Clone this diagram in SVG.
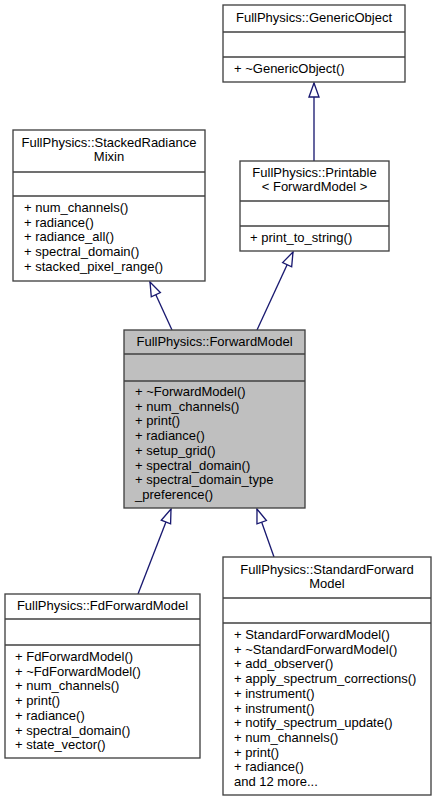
<svg xmlns="http://www.w3.org/2000/svg" width="435" height="801" viewBox="0 0 435 801">
<style>
.box{fill:#ffffff;stroke:#404040;stroke-width:1.33}
.cur{fill:#bfbfbf;stroke:#404040;stroke-width:1.33}
.sep{stroke:#404040;stroke-width:1.33}
text{font-family:"Liberation Sans",Arial,Helvetica,sans-serif;font-size:13px;fill:#000000}
.c{text-anchor:middle}
.edge{stroke:#191970;stroke-width:1.33;fill:none;marker-end:url(#tri)}
</style>
<defs>
<marker id="tri" markerUnits="userSpaceOnUse" markerWidth="20" markerHeight="14" refX="15" refY="7" orient="auto" overflow="visible">
<path d="M1,2 L15,7 L1,12 Z" fill="#ffffff" stroke="#191970" stroke-width="1.33"/>
</marker>
</defs>
<rect width="435" height="801" fill="#ffffff"/>
<g id="connectors">
<line class="edge" x1="314" y1="161" x2="314" y2="83"/>
<line class="edge" x1="172" y1="330" x2="150" y2="282"/>
<line class="edge" x1="257" y1="330" x2="293" y2="252"/>
<line class="edge" x1="138" y1="594" x2="171" y2="509"/>
<line class="edge" x1="274" y1="557" x2="257" y2="509"/>
</g>
<g id="GenericObject">
<rect class="box" x="223" y="5" width="182" height="77"/>
<line class="sep" x1="223" y1="32" x2="405" y2="32"/>
<line class="sep" x1="223" y1="57" x2="405" y2="57"/>
<text class="c" x="314" y="22">FullPhysics::GenericObject</text>
<text x="234" y="73">+ ~GenericObject()</text>
</g>
<g id="Printable">
<rect class="box" x="240" y="161" width="149" height="90"/>
<line class="sep" x1="240" y1="201" x2="389" y2="201"/>
<line class="sep" x1="240" y1="226" x2="389" y2="226"/>
<text class="c" x="314.5" y="177">FullPhysics::Printable</text>
<text class="c" x="314.5" y="191">&lt; ForwardModel &gt;</text>
<text x="250" y="242">+ print_to_string()</text>
</g>
<g id="StackedRadianceMixin">
<rect class="box" x="13" y="130" width="192" height="151"/>
<line class="sep" x1="13" y1="172" x2="205" y2="172"/>
<line class="sep" x1="13" y1="196" x2="205" y2="196"/>
<text class="c" x="109" y="147">FullPhysics::StackedRadiance</text>
<text class="c" x="109" y="161">Mixin</text>
<text x="24" y="212">+ num_channels()</text>
<text x="24" y="226.7">+ radiance()</text>
<text x="24" y="241.4">+ radiance_all()</text>
<text x="24" y="256.1">+ spectral_domain()</text>
<text x="24" y="270.8">+ stacked_pixel_range()</text>
</g>
<g id="ForwardModel">
<rect class="cur" x="124" y="330" width="181" height="178"/>
<line class="sep" x1="124" y1="354" x2="305" y2="354"/>
<line class="sep" x1="124" y1="381" x2="305" y2="381"/>
<text class="c" x="214.5" y="346">FullPhysics::ForwardModel</text>
<text x="135" y="396">+ ~ForwardModel()</text>
<text x="135" y="410.7">+ num_channels()</text>
<text x="135" y="425.4">+ print()</text>
<text x="135" y="440.1">+ radiance()</text>
<text x="135" y="454.8">+ setup_grid()</text>
<text x="135" y="469.5">+ spectral_domain()</text>
<text x="135" y="484.2">+ spectral_domain_type</text>
<text x="135" y="498.9">_preference()</text>
</g>
<g id="FdForwardModel">
<rect class="box" x="5" y="594" width="195" height="164"/>
<line class="sep" x1="5" y1="619" x2="200" y2="619"/>
<line class="sep" x1="5" y1="645" x2="200" y2="645"/>
<text class="c" x="102.5" y="610">FullPhysics::FdForwardModel</text>
<text x="15" y="661">+ FdForwardModel()</text>
<text x="15" y="675.7">+ ~FdForwardModel()</text>
<text x="15" y="690.4">+ num_channels()</text>
<text x="15" y="705.1">+ print()</text>
<text x="15" y="719.8">+ radiance()</text>
<text x="15" y="734.5">+ spectral_domain()</text>
<text x="15" y="749.2">+ state_vector()</text>
</g>
<g id="StandardForwardModel">
<rect class="box" x="223" y="557" width="208" height="238"/>
<line class="sep" x1="223" y1="598" x2="431" y2="598"/>
<line class="sep" x1="223" y1="623" x2="431" y2="623"/>
<text class="c" x="327" y="574">FullPhysics::StandardForward</text>
<text class="c" x="327" y="588">Model</text>
<text x="234" y="639">+ StandardForwardModel()</text>
<text x="234" y="653.7">+ ~StandardForwardModel()</text>
<text x="234" y="668.4">+ add_observer()</text>
<text x="234" y="683.1">+ apply_spectrum_corrections()</text>
<text x="234" y="697.8">+ instrument()</text>
<text x="234" y="712.5">+ instrument()</text>
<text x="234" y="727.2">+ notify_spectrum_update()</text>
<text x="234" y="741.9">+ num_channels()</text>
<text x="234" y="756.6">+ print()</text>
<text x="234" y="771.3">+ radiance()</text>
<text x="234" y="786">and 12 more...</text>
</g>
</svg>
